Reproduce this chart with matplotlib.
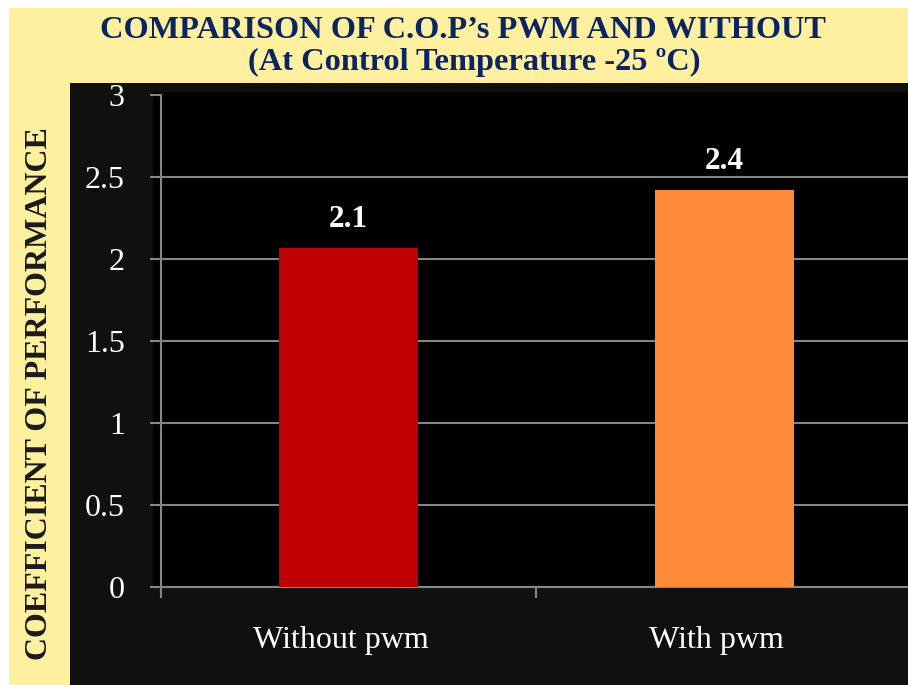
import numpy as np
import matplotlib
matplotlib.use("Agg")
import matplotlib.pyplot as plt
import matplotlib.transforms as mtransforms
from matplotlib.patches import Rectangle

# values
categories = ["Without pwm", "With pwm"]
cop = [2.07, 2.42]
cop_labels = ["2.1", "2.4"]
bar_colors = ["#C00000", "#FF8A3A"]
y_ticks = [0, 0.5, 1, 1.5, 2, 2.5, 3]
y_tick_labels = ["0", "0.5", "1", "1.5", "2", "2.5", "3"]

title_1 = "COMPARISON OF C.O.P\u2019s PWM AND WITHOUT"
title_2 = "(At Control Temperature -25 \u00baC)"
ylabel = "COEFFICIENT OF PERFORMANCE"

W, H = 908, 685
SERIF = ["Liberation Serif", "DejaVu Serif"]
NAVY = "#0B2462"
GRID = "#868686"


def fx(px):
    return px / W


def fy(py):
    return 1 - py / H


fig = plt.figure(figsize=(W / 100, H / 100), dpi=100)
fig.patch.set_facecolor("white")

# yellow slide background, dark chart area, black plot area
fig.add_artist(Rectangle((fx(9), 0), 1, fy(8), transform=fig.transFigure,
                         facecolor="#FFF0A0", edgecolor="none", zorder=-3))
fig.add_artist(Rectangle((fx(70), 0), 1, fy(83), transform=fig.transFigure,
                         facecolor="#101010", edgecolor="none", zorder=-2))
fig.add_artist(Rectangle((fx(153), fy(588)), 1, fy(92) - fy(588), transform=fig.transFigure,
                         facecolor="black", edgecolor="none", zorder=-1))

ax = fig.add_axes([fx(161), fy(587), 1 - fx(161), fy(95) - fy(587)])
ax.set_facecolor("none")

x = np.arange(len(categories))
ax.bar(x, cop, width=0.37, color=bar_colors, zorder=3)
for xi, v, lab in zip(x, cop, cop_labels):
    ax.annotate(lab, (xi, v), xytext=(0, 15), textcoords="offset points",
                ha="center", va="baseline", color="white", fontsize=22.5,
                fontweight="bold", family=SERIF, zorder=4)

ax.set_xlim(-0.5, 1.49)
ax.set_ylim(0, 3)

ax.set_yticks(y_ticks, y_tick_labels)
ax.yaxis.grid(True, color=GRID, linewidth=1.5)
ax.get_ygridlines()[-1].set_visible(False)
ax.set_axisbelow(True)
ax.tick_params(axis="y", length=8, width=1.5, color=GRID, pad=18,
               labelsize=23, labelcolor="white")
for t in ax.get_yticklabels():
    t.set_family(SERIF)

# category boundaries get tick marks, names sit between them
ax.set_xticks(np.arange(len(categories)) - 0.5)
ax.set_xticklabels([])
ax.set_xticks(x, categories, minor=True)
ax.tick_params(axis="x", which="major", length=8, width=1.5, color=GRID)
ax.tick_params(axis="x", which="minor", length=0, pad=28,
               labelsize=23, labelcolor="white")
# excel puts the category names a touch left of the bar centres
shift = mtransforms.ScaledTranslation(-8 / 100, 0, fig.dpi_scale_trans)
for t in ax.get_xticklabels(minor=True):
    t.set_family(SERIF)
    t.set_transform(t.get_transform() + shift)

for side in ["top", "right"]:
    ax.spines[side].set_visible(False)
for side in ["left", "bottom"]:
    ax.spines[side].set_color(GRID)
    ax.spines[side].set_linewidth(1.5)

fig.text(fx(463), fy(38), title_1, ha="center", va="baseline", color=NAVY,
         fontsize=23.3, fontweight="bold", family=SERIF)
fig.text(fx(474), fy(70), title_2, ha="center", va="baseline", color=NAVY,
         fontsize=23.3, fontweight="bold", family=SERIF)
fig.text(fx(40), fy(394), ylabel, ha="center", va="center", rotation=90,
         color="#1a1a1a", fontsize=23, fontweight="bold", family=SERIF)

fig.savefig("out.png", dpi=100, facecolor=fig.get_facecolor())
